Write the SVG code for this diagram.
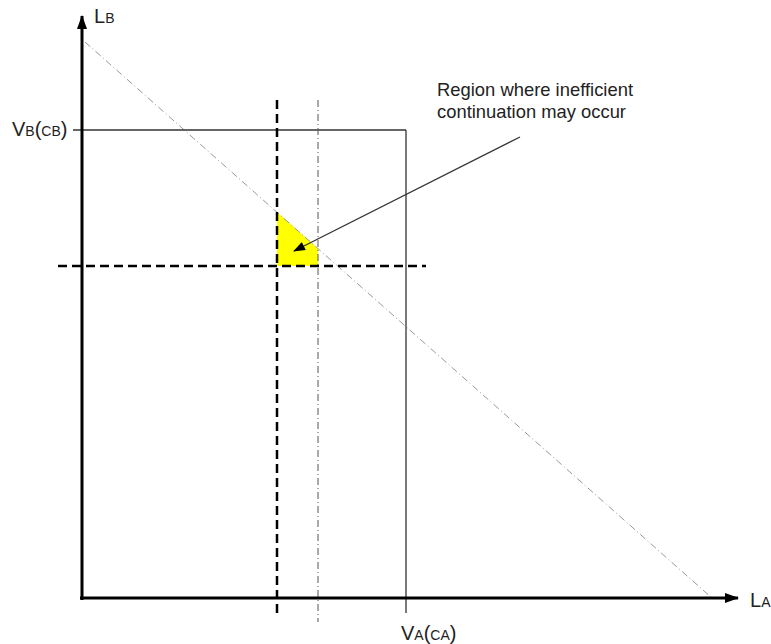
<svg xmlns="http://www.w3.org/2000/svg" width="771" height="644" viewBox="0 0 771 644">
<style>
.big{font-family:"Liberation Sans",Arial,sans-serif;font-size:20px;fill:#222}
.sm{font-size:14px}
.note{font-family:"Liberation Sans",Arial,sans-serif;font-size:18.4px;fill:#222}
.axis{stroke:#000;stroke-width:3;fill:none}
.box{stroke:#333;stroke-width:1.3;fill:none}
.dash{stroke:#000;stroke-width:2.5;stroke-dasharray:9 5;fill:none}
.dd{stroke:#555;stroke-width:1;stroke-dasharray:7 3 1 3;fill:none}
.diag{stroke:#999;stroke-width:1;stroke-dasharray:7 3 1 3;fill:none}
</style>
<defs>
<marker id="ah" markerWidth="12" markerHeight="9" refX="11" refY="4.5" orient="auto" markerUnits="userSpaceOnUse">
<path d="M0,0 L12,4.5 L0,9 Z" fill="#000"/>
</marker>
<marker id="ah2" markerWidth="14" markerHeight="10" refX="13" refY="5" orient="auto" markerUnits="userSpaceOnUse">
<path d="M0,0 L14,5 L0,10 Z" fill="#000"/>
</marker>
</defs>
<g id="region">
<polygon points="277,212 277,266 318,266 318,248.6" fill="#ffff00"/>
</g>
<g id="connectors">
<line class="diag" x1="85" y1="42" x2="712" y2="598"/>
<line class="box" x1="73" y1="130" x2="406" y2="130"/>
<line class="box" x1="406" y1="130" x2="406" y2="613"/>
<line class="dash" x1="277" y1="100" x2="277" y2="618"/>
<line class="dd" x1="318" y1="100" x2="318" y2="622"/>
<line class="dash" x1="58" y1="266" x2="426" y2="266"/>
<line x1="82" y1="600" x2="82" y2="16" class="axis" marker-end="url(#ah2)"/>
<line x1="80" y1="598" x2="738" y2="598" class="axis" marker-end="url(#ah2)"/>
<line x1="520" y1="137" x2="294" y2="251" stroke="#333" stroke-width="1.3" marker-end="url(#ah)"/>
</g>
<g id="labels">
<text class="big" x="94" y="23">L<tspan class="sm">B</tspan></text>
<text class="big" x="750" y="607">L<tspan class="sm">A</tspan></text>
<text class="big" x="12" y="136">V<tspan class="sm">B</tspan>(<tspan class="sm">CB</tspan>)</text>
<text class="big" x="401" y="640">V<tspan class="sm">A</tspan>(<tspan class="sm">CA</tspan>)</text>
<text class="note" x="437" y="96" textLength="196" lengthAdjust="spacingAndGlyphs">Region where inefficient</text>
<text class="note" x="437" y="118" textLength="189" lengthAdjust="spacingAndGlyphs">continuation may occur</text>
</g>
</svg>
